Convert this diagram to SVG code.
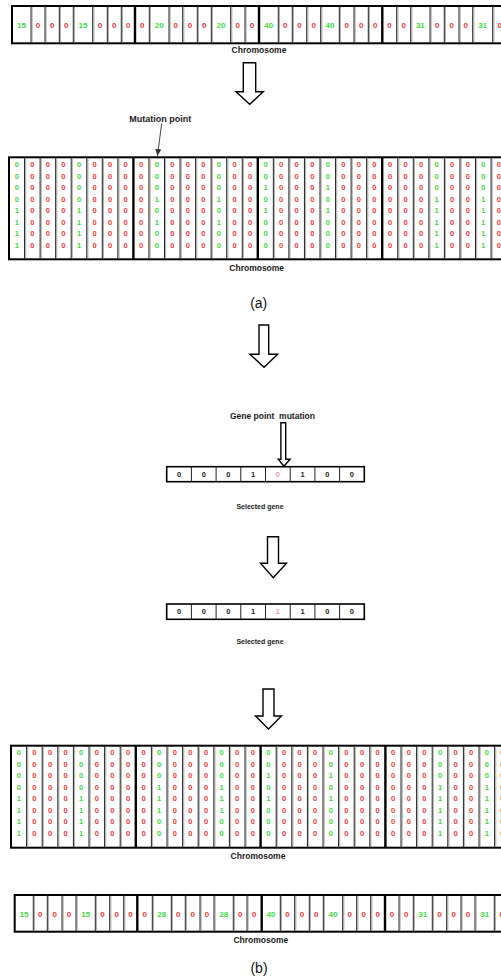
<svg xmlns="http://www.w3.org/2000/svg" width="501" height="978" viewBox="0 0 501 978">
<style>
.d{font-family:"Liberation Sans",Arial,sans-serif;font-weight:bold;font-size:7.5px;text-anchor:middle}
.cd{font-family:"Liberation Sans",Arial,sans-serif;font-weight:bold;font-size:8px;text-anchor:middle}
.gd{font-family:"Liberation Sans",Arial,sans-serif;font-weight:bold;font-size:7.5px;text-anchor:middle;fill:#222}
.g{fill:#3ddc3d}
.r{fill:#f23a3a}
.p{fill:#e89aa8}
.lbl{font-family:"Liberation Sans",Arial,sans-serif;font-weight:bold;font-size:8.5px;text-anchor:middle;fill:#1a1a1a;white-space:pre}
.sm{font-size:7px}
.big{font-family:"Liberation Sans",Arial,sans-serif;font-size:14px;text-anchor:middle;fill:#111}
.frame{fill:#fff;stroke:#000;stroke-width:2}
.thin{fill:none;stroke:#222;stroke-width:1}
.shade{fill:none;stroke:#b0b0b0;stroke-width:1}
.thick{fill:none;stroke:#000;stroke-width:2.4}
.harrow{fill:#fff;stroke:#000;stroke-width:1.4;stroke-linejoin:miter}
.ptr{fill:none;stroke:#333;stroke-width:0.9}
</style>
<defs>
<marker id="ah" markerWidth="8" markerHeight="8" refX="7" refY="4" orient="auto" markerUnits="userSpaceOnUse">
<path d="M0,1 L7,4 L0,7 Z" fill="#333"/>
</marker>
<text id="c0" class="d r" x="0 0 0 0 0 0 0 0" y="0 11.55 23.1 34.65 46.2 57.75 69.3 80.85">00000000</text>
<text id="c15" class="d g" x="0 0 0 0 0 0 0 0" y="0 11.55 23.1 34.65 46.2 57.75 69.3 80.85">00001111</text>
<text id="c20" class="d g" x="0 0 0 0 0 0 0 0" y="0 11.55 23.1 34.65 46.2 57.75 69.3 80.85">00010100</text>
<text id="c28" class="d g" x="0 0 0 0 0 0 0 0" y="0 11.55 23.1 34.65 46.2 57.75 69.3 80.85">00011100</text>
<text id="c40" class="d g" x="0 0 0 0 0 0 0 0" y="0 11.55 23.1 34.65 46.2 57.75 69.3 80.85">00101000</text>
<text id="c31" class="d g" x="0 0 0 0 0 0 0 0" y="0 11.55 23.1 34.65 46.2 57.75 69.3 80.85">00011111</text>
</defs>

<!-- Top chromosome -->
<g id="chromosome-top">
<rect class="frame" x="12" y="6" width="495" height="37.3"/>
<path class="shade" d="M32.2 7V42.3M46.2 7V42.3M60.5 7V42.3M74.5 7V42.3M93.9 7V42.3M108.5 7V42.3M122.5 7V42.3M150.5 7V42.3M170.2 7V42.3M183.9 7V42.3M198.5 7V42.3M212.5 7V42.3M231.9 7V42.3M246.2 7V42.3M279.5 7V42.3M293.5 7V42.3M307.9 7V42.3M321.9 7V42.3M340.5 7V42.3M355.2 7V42.3M369.5 7V42.3M397.9 7V42.3M411.9 7V42.3M431.2 7V42.3M445.5 7V42.3M460.2 7V42.3M473.9 7V42.3M493.9 7V42.3"/>
<path class="thin" d="M31 6V43.3M45 6V43.3M59.3 6V43.3M73.3 6V43.3M92.7 6V43.3M107.3 6V43.3M121.3 6V43.3M149.3 6V43.3M169 6V43.3M182.7 6V43.3M197.3 6V43.3M211.3 6V43.3M230.7 6V43.3M245 6V43.3M278.3 6V43.3M292.3 6V43.3M306.7 6V43.3M320.7 6V43.3M339.3 6V43.3M354 6V43.3M368.3 6V43.3M396.7 6V43.3M410.7 6V43.3M430 6V43.3M444.3 6V43.3M459 6V43.3M472.7 6V43.3M492.7 6V43.3"/>
<path class="thick" d="M135 6V43.3M259 6V43.3M382.3 6V43.3"/>
<text class="cd g" x="21.5" y="27.8">15</text>
<text class="cd r" x="38 52.15 66.3" y="27.8 27.8 27.8">000</text>
<text class="cd g" x="83" y="27.8">15</text>
<text class="cd r" x="100 114.3 128.15 142.15" y="27.8 27.8 27.8 27.8">0000</text>
<text class="cd g" x="159.15" y="27.8">20</text>
<text class="cd r" x="175.85 190 204.3" y="27.8 27.8 27.8">000</text>
<text class="cd g" x="221" y="27.8">20</text>
<text class="cd r" x="237.85 252" y="27.8 27.8">00</text>
<text class="cd g" x="268.65" y="27.8">40</text>
<text class="cd r" x="285.3 299.5 313.7" y="27.8 27.8 27.8">000</text>
<text class="cd g" x="330" y="27.8">40</text>
<text class="cd r" x="346.65 361.15 375.3 389.5 403.7" y="27.8 27.8 27.8 27.8 27.8">00000</text>
<text class="cd g" x="420.35" y="27.8">31</text>
<text class="cd r" x="437.15 451.65 465.85" y="27.8 27.8 27.8">000</text>
<text class="cd g" x="482.7" y="27.8">31</text>
<text class="cd r" x="499.85" y="27.8">0</text>
</g>
<g id="label-chromosome-top"><text class="lbl" x="259" y="53">Chromosome</text></g>

<g id="label-mutation-point"><text class="lbl" x="160.3" y="121.5" style="font-size:9px">Mutation point</text></g>

<!-- Binary grid (a) -->
<g id="grid-a">
<rect class="frame" x="9" y="157.3" width="497.6" height="102"/>
<path class="shade" d="M25.75 158.3V258.3M41.3 158.3V258.3M56.85 158.3V258.3M72.4 158.3V258.3M87.95 158.3V258.3M103.5 158.3V258.3M119.05 158.3V258.3M150.15 158.3V258.3M165.7 158.3V258.3M181.25 158.3V258.3M196.8 158.3V258.3M212.35 158.3V258.3M227.9 158.3V258.3M243.45 158.3V258.3M274.55 158.3V258.3M290.1 158.3V258.3M305.65 158.3V258.3M321.2 158.3V258.3M336.75 158.3V258.3M352.3 158.3V258.3M367.85 158.3V258.3M398.95 158.3V258.3M414.5 158.3V258.3M430.05 158.3V258.3M445.6 158.3V258.3M461.15 158.3V258.3M476.7 158.3V258.3M492.25 158.3V258.3"/>
<path class="thin" d="M24.55 157.3V259.3M40.1 157.3V259.3M55.65 157.3V259.3M71.2 157.3V259.3M86.75 157.3V259.3M102.3 157.3V259.3M117.85 157.3V259.3M148.95 157.3V259.3M164.5 157.3V259.3M180.05 157.3V259.3M195.6 157.3V259.3M211.15 157.3V259.3M226.7 157.3V259.3M242.25 157.3V259.3M273.35 157.3V259.3M288.9 157.3V259.3M304.45 157.3V259.3M320 157.3V259.3M335.55 157.3V259.3M351.1 157.3V259.3M366.65 157.3V259.3M397.75 157.3V259.3M413.3 157.3V259.3M428.85 157.3V259.3M444.4 157.3V259.3M459.95 157.3V259.3M475.5 157.3V259.3M491.05 157.3V259.3"/>
<path class="thick" d="M133.4 157.3V259.3M257.8 157.3V259.3M382.2 157.3V259.3"/>
<use href="#c15" x="16.78" y="167.1"/>
<use href="#c0" x="32.33" y="167.1"/>
<use href="#c0" x="47.88" y="167.1"/>
<use href="#c0" x="63.43" y="167.1"/>
<use href="#c15" x="78.98" y="167.1"/>
<use href="#c0" x="94.53" y="167.1"/>
<use href="#c0" x="110.08" y="167.1"/>
<use href="#c0" x="125.63" y="167.1"/>
<use href="#c0" x="141.18" y="167.1"/>
<use href="#c20" x="156.73" y="167.1"/>
<use href="#c0" x="172.28" y="167.1"/>
<use href="#c0" x="187.83" y="167.1"/>
<use href="#c0" x="203.38" y="167.1"/>
<use href="#c20" x="218.93" y="167.1"/>
<use href="#c0" x="234.48" y="167.1"/>
<use href="#c0" x="250.03" y="167.1"/>
<use href="#c40" x="265.58" y="167.1"/>
<use href="#c0" x="281.13" y="167.1"/>
<use href="#c0" x="296.68" y="167.1"/>
<use href="#c0" x="312.23" y="167.1"/>
<use href="#c40" x="327.78" y="167.1"/>
<use href="#c0" x="343.33" y="167.1"/>
<use href="#c0" x="358.88" y="167.1"/>
<use href="#c0" x="374.43" y="167.1"/>
<use href="#c0" x="389.98" y="167.1"/>
<use href="#c0" x="405.53" y="167.1"/>
<use href="#c0" x="421.08" y="167.1"/>
<use href="#c31" x="436.63" y="167.1"/>
<use href="#c0" x="452.18" y="167.1"/>
<use href="#c0" x="467.73" y="167.1"/>
<use href="#c31" x="483.28" y="167.1"/>
<use href="#c0" x="498.83" y="167.1"/>
</g>
<g id="label-chromosome-a"><text class="lbl" x="256.7" y="270.5">Chromosome</text></g>
<g id="label-a"><text class="big" x="258.7" y="307.5">(a)</text></g>

<g id="label-gene-point-mutation"><text class="lbl" x="272.5" y="419">Gene point  mutation</text></g>

<!-- Selected gene 1 -->
<g id="gene-1">
<rect class="frame" x="166.7" y="466.7" width="197.6" height="15" style="stroke-width:1.6"/>
<path class="thin" d="M191.4 466.7V481.7M216.1 466.7V481.7M240.8 466.7V481.7M265.5 466.7V481.7M290.2 466.7V481.7M314.9 466.7V481.7M339.6 466.7V481.7"/>
<text class="gd" x="179.05 203.75 228.45 253.15" y="476.7 476.7 476.7 476.7">0001</text>
<text class="gd p" x="277.85" y="476.7">0</text>
<text class="gd" x="302.55 327.25 351.95" y="476.7 476.7 476.7">100</text>
</g>
<g id="label-selected-gene-1"><text class="lbl sm" x="260" y="509.3">Selected gene</text></g>

<!-- Selected gene 2 -->
<g id="gene-2">
<rect class="frame" x="166.7" y="604" width="197.6" height="15.3" style="stroke-width:1.6"/>
<path class="thin" d="M191.4 604V619.3M216.1 604V619.3M240.8 604V619.3M265.5 604V619.3M290.2 604V619.3M314.9 604V619.3M339.6 604V619.3"/>
<text class="gd" x="179.05 203.75 228.45 253.15" y="614.4 614.4 614.4 614.4">0001</text>
<text class="gd p" x="277.85" y="614.4">1</text>
<text class="gd" x="302.55 327.25 351.95" y="614.4 614.4 614.4">100</text>
</g>
<g id="label-selected-gene-2"><text class="lbl sm" x="260" y="644.3">Selected gene</text></g>

<!-- Binary grid (b) -->
<g id="grid-b">
<rect class="frame" x="11" y="745.7" width="499.2" height="102"/>
<path class="shade" d="M27.8 746.7V846.7M43.4 746.7V846.7M59 746.7V846.7M74.6 746.7V846.7M90.2 746.7V846.7M105.8 746.7V846.7M121.4 746.7V846.7M152.6 746.7V846.7M168.2 746.7V846.7M183.8 746.7V846.7M199.4 746.7V846.7M215 746.7V846.7M230.6 746.7V846.7M246.2 746.7V846.7M277.4 746.7V846.7M293 746.7V846.7M308.6 746.7V846.7M324.2 746.7V846.7M339.8 746.7V846.7M355.4 746.7V846.7M371 746.7V846.7M402.2 746.7V846.7M417.8 746.7V846.7M433.4 746.7V846.7M449 746.7V846.7M464.6 746.7V846.7M480.2 746.7V846.7M495.8 746.7V846.7"/>
<path class="thin" d="M26.6 745.7V847.7M42.2 745.7V847.7M57.8 745.7V847.7M73.4 745.7V847.7M89 745.7V847.7M104.6 745.7V847.7M120.2 745.7V847.7M151.4 745.7V847.7M167 745.7V847.7M182.6 745.7V847.7M198.2 745.7V847.7M213.8 745.7V847.7M229.4 745.7V847.7M245 745.7V847.7M276.2 745.7V847.7M291.8 745.7V847.7M307.4 745.7V847.7M323 745.7V847.7M338.6 745.7V847.7M354.2 745.7V847.7M369.8 745.7V847.7M401 745.7V847.7M416.6 745.7V847.7M432.2 745.7V847.7M447.8 745.7V847.7M463.4 745.7V847.7M479 745.7V847.7M494.6 745.7V847.7"/>
<path class="thick" d="M135.8 745.7V847.7M260.6 745.7V847.7M385.4 745.7V847.7"/>
<use href="#c15" x="18.8" y="755"/>
<use href="#c0" x="34.4" y="755"/>
<use href="#c0" x="50" y="755"/>
<use href="#c0" x="65.6" y="755"/>
<use href="#c15" x="81.2" y="755"/>
<use href="#c0" x="96.8" y="755"/>
<use href="#c0" x="112.4" y="755"/>
<use href="#c0" x="128" y="755"/>
<use href="#c0" x="143.6" y="755"/>
<use href="#c28" x="159.2" y="755"/>
<use href="#c0" x="174.8" y="755"/>
<use href="#c0" x="190.4" y="755"/>
<use href="#c0" x="206" y="755"/>
<use href="#c28" x="221.6" y="755"/>
<use href="#c0" x="237.2" y="755"/>
<use href="#c0" x="252.8" y="755"/>
<use href="#c40" x="268.4" y="755"/>
<use href="#c0" x="284" y="755"/>
<use href="#c0" x="299.6" y="755"/>
<use href="#c0" x="315.2" y="755"/>
<use href="#c40" x="330.8" y="755"/>
<use href="#c0" x="346.4" y="755"/>
<use href="#c0" x="362" y="755"/>
<use href="#c0" x="377.6" y="755"/>
<use href="#c0" x="393.2" y="755"/>
<use href="#c0" x="408.8" y="755"/>
<use href="#c0" x="424.4" y="755"/>
<use href="#c31" x="440" y="755"/>
<use href="#c0" x="455.6" y="755"/>
<use href="#c0" x="471.2" y="755"/>
<use href="#c31" x="486.8" y="755"/>
<use href="#c0" x="502.4" y="755"/>
</g>
<g id="label-chromosome-b"><text class="lbl" x="258" y="858.7">Chromosome</text></g>

<!-- Bottom chromosome -->
<g id="chromosome-bottom">
<rect class="frame" x="14.7" y="895" width="494.3" height="36.7"/>
<path class="shade" d="M34.5 896V930.7M48.5 896V930.7M63.2 896V930.7M77.2 896V930.7M96.5 896V930.7M110.9 896V930.7M124.9 896V930.7M153.5 896V930.7M172.5 896V930.7M186.5 896V930.7M201.2 896V930.7M215.2 896V930.7M234.5 896V930.7M248.2 896V930.7M281.5 896V930.7M295.9 896V930.7M310.5 896V930.7M324.5 896V930.7M343.9 896V930.7M357.9 896V930.7M371.9 896V930.7M400.2 896V930.7M414.5 896V930.7M433.5 896V930.7M447.9 896V930.7M462.2 896V930.7M476.2 896V930.7M495.5 896V930.7"/>
<path class="thin" d="M33.3 895V931.7M47.3 895V931.7M62 895V931.7M76 895V931.7M95.3 895V931.7M109.7 895V931.7M123.7 895V931.7M152.3 895V931.7M171.3 895V931.7M185.3 895V931.7M200 895V931.7M214 895V931.7M233.3 895V931.7M247 895V931.7M280.3 895V931.7M294.7 895V931.7M309.3 895V931.7M323.3 895V931.7M342.7 895V931.7M356.7 895V931.7M370.7 895V931.7M399 895V931.7M413.3 895V931.7M432.3 895V931.7M446.7 895V931.7M461 895V931.7M475 895V931.7M494.3 895V931.7"/>
<path class="thick" d="M137.3 895V931.7M261.7 895V931.7M385 895V931.7"/>
<text class="cd g" x="24" y="916.8">15</text>
<text class="cd r" x="40.3 54.65 69" y="916.8 916.8 916.8">000</text>
<text class="cd g" x="85.65" y="916.8">15</text>
<text class="cd r" x="102.5 116.7 130.5 144.8" y="916.8 916.8 916.8 916.8">0000</text>
<text class="cd g" x="161.8" y="916.8">28</text>
<text class="cd r" x="178.3 192.65 207" y="916.8 916.8 916.8">000</text>
<text class="cd g" x="223.65" y="916.8">28</text>
<text class="cd r" x="240.15 254.35" y="916.8 916.8">00</text>
<text class="cd g" x="271" y="916.8">40</text>
<text class="cd r" x="287.5 302 316.3" y="916.8 916.8 916.8">000</text>
<text class="cd g" x="333" y="916.8">40</text>
<text class="cd r" x="349.7 363.7 377.85 392 406.15" y="916.8 916.8 916.8 916.8 916.8">00000</text>
<text class="cd g" x="422.8" y="916.8">31</text>
<text class="cd r" x="439.5 453.85 468" y="916.8 916.8 916.8">000</text>
<text class="cd g" x="484.65" y="916.8">31</text>
<text class="cd r" x="501.65" y="916.8">0</text>
</g>
<g id="label-chromosome-bottom"><text class="lbl" x="260.8" y="943">Chromosome</text></g>
<g id="label-b"><text class="big" x="259" y="972.5">(b)</text></g>

<!-- Connectors -->
<g id="connectors">
<polygon class="harrow" points="243.3,62.7 255.7,62.7 255.7,91.7 263.3,91.7 249.7,104.3 236,91.7 243.3,91.7"/>
<line class="ptr" x1="161.7" y1="123.5" x2="157.4" y2="156" marker-end="url(#ah)"/>
<polygon class="harrow" points="259,325 268.7,325 268.7,354.3 277.7,354.3 264,367.3 250,354.3 259,354.3"/>
<polygon class="harrow" points="280.9,422.7 285.7,422.7 285.7,459.3 290,459.3 284,466.3 278.3,459.3 280.9,459.3"/>
<polygon class="harrow" points="267.5,536.7 278.5,536.7 278.5,563.3 286.5,563.3 273.3,577.7 260.5,563.3 267.5,563.3"/>
<polygon class="harrow" points="263,689 274,689 274,716 281.5,716 268.5,729 255.5,716 263,716"/>
</g>
</svg>
